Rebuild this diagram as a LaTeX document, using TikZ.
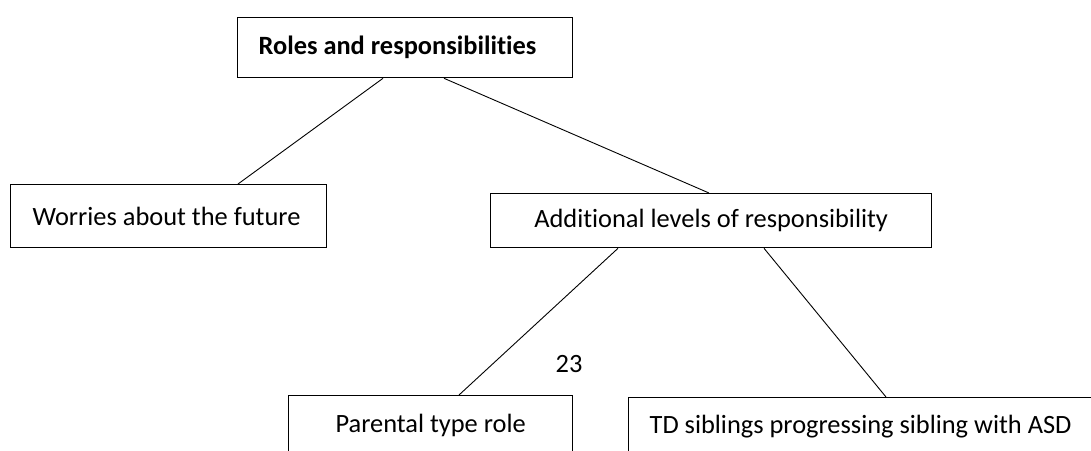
\documentclass[tikz,border=0pt]{standalone}
\usepackage{fontspec}
\setmainfont{Carlito}[Ligatures=NoCommon]
\usetikzlibrary{calc}
\begin{document}
\begin{tikzpicture}[x=1pt,y=-1pt,
  box/.style={draw=black,line width=1.3pt,inner ysep=0pt,anchor=north west,
    font=\fontsize{26.4}{30}\selectfont},
  link/.style={draw=black,line width=0.9pt}]
\useasboundingbox (0,0) rectangle (1091,450);
\clip (0,0) rectangle (1091,450);
\node[box,minimum height=60pt,inner xsep=21pt,text width=293pt,align=flush left] (roles) at (237,17) {\bfseries Roles and responsibilities};
\node[box,minimum height=63pt,inner xsep=22.5pt,text width=271.5pt,align=flush left] (worries) at (9.5,184) {Worries about the future};
\node[box,minimum height=54pt,minimum width=441pt,inner xsep=0pt] (add) at (490,193) {Additional levels of responsibility};
\node[box,minimum height=60pt,minimum width=284pt,inner xsep=0pt] (par) at (288,395) {Parental type role};
\node[box,minimum height=58pt,inner xsep=21pt,text width=460pt,align=flush left] (td) at (628,397) {TD siblings progressing sibling with ASD};
\node[font=\fontsize{26.4}{30}\selectfont,inner sep=0pt] (num) at (569,364) {23};
\path[link] ([xshift=146pt]roles.south west) -- ([xshift=228.5pt]worries.north west);
\path[link] ([xshift=207pt]roles.south west) -- ([xshift=219pt]add.north west);
\path[link] ([xshift=128pt]add.south west) -- ([xshift=171pt]par.north west);
\path[link] ([xshift=274pt]add.south west) -- ([xshift=258pt]td.north west);
\end{tikzpicture}
\end{document}
